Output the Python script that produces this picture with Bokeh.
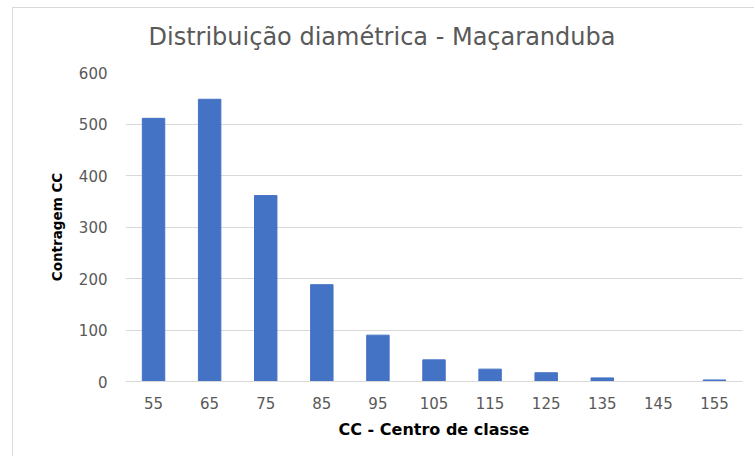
from bokeh.plotting import figure
from bokeh.models import FactorRange, Range1d, Title, FixedTicker
from bokeh.embed import file_html
from bokeh.resources import INLINE

# data
centers = ["55", "65", "75", "85", "95", "105", "115", "125", "135", "145", "155"]
counts = [511, 548, 361, 188, 90, 42, 24, 17, 7, 0, 3]
y_ticks = [0, 100, 200, 300, 400, 500, 600]

title_text = "Distribuição diamétrica - Maçaranduba"
x_label = "CC - Centro de classe"
y_label = "Contragem CC"

grey_text = "#595959"
grid = "#d9d9d9"
FONT = "DejaVu Sans"

p = figure(x_range=FactorRange(*centers), y_range=Range1d(0, 600),
           width=742, height=449, output_backend="svg", toolbar_location=None,
           min_border_left=112, min_border_right=13, min_border_top=64,
           min_border_bottom=76)
p.styles = {"margin-left": "12px", "margin-top": "7px",
            "border-left": "1px solid #d9d9d9", "border-top": "1px solid #d9d9d9"}

p.vbar(x=centers, top=counts, width=0.4, fill_color="#4472C4", line_color="#4472C4")

p.outline_line_color = None
p.xgrid.grid_line_color = None
p.ygrid.grid_line_color = grid
p.ygrid.grid_line_width = 1

p.yaxis.ticker = FixedTicker(ticks=y_ticks)
p.yaxis.axis_line_color = None
p.yaxis.major_tick_line_color = None
p.yaxis.minor_tick_line_color = None
p.yaxis.major_label_text_font = FONT
p.yaxis.major_label_text_font_size = "15px"
p.yaxis.major_label_text_color = grey_text
p.yaxis.major_label_standoff = 12
p.yaxis.axis_label = y_label
p.yaxis.axis_label_text_font = FONT
p.yaxis.axis_label_text_font_style = "bold"
p.yaxis.axis_label_text_font_size = "13.5px"
p.yaxis.axis_label_text_color = "#000000"
p.yaxis.axis_label_standoff = 11

p.xaxis.axis_line_color = grid
p.xaxis.axis_line_width = 1
p.xaxis.major_tick_line_color = None
p.xaxis.minor_tick_line_color = None
p.xaxis.major_label_text_font = FONT
p.xaxis.major_label_text_font_size = "15px"
p.xaxis.major_label_text_color = grey_text
p.xaxis.major_label_standoff = 9
p.xaxis.axis_label = x_label
p.xaxis.axis_label_text_font = FONT
p.xaxis.axis_label_text_font_style = "bold"
p.xaxis.axis_label_text_font_size = "16px"
p.xaxis.axis_label_text_color = "#000000"
p.xaxis.axis_label_standoff = 8

# spacer (nearest the plot) then the main title
p.add_layout(Title(text=" ", text_font_size="1px", standoff=8), "above")
p.add_layout(Title(text=title_text, align="left", offset=23, vertical_align="top",
                   standoff=18, text_font=FONT, text_font_size="24px",
                   text_font_style="normal", text_color=grey_text), "above")

open("out.html", "w").write(file_html(p, INLINE))
